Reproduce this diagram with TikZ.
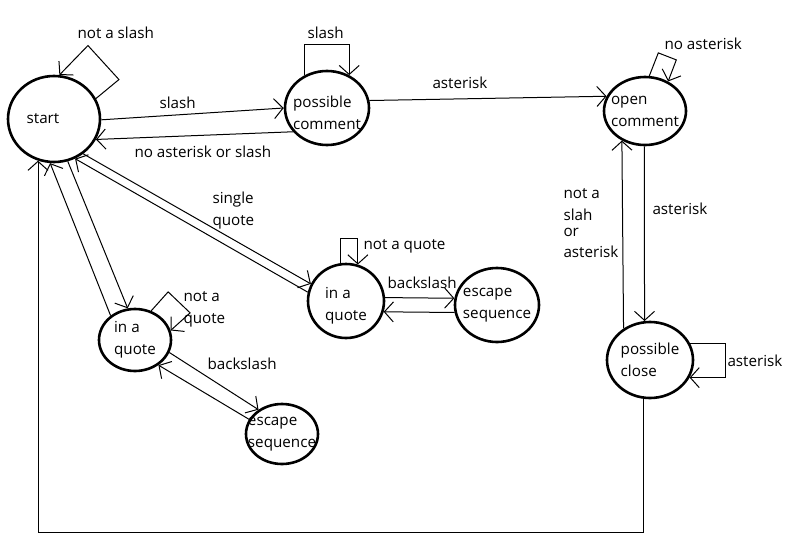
\documentclass[tikz,border=0pt]{standalone}
\usepackage{fontspec}
\setmainfont{Open Sans}
\usetikzlibrary{shapes.geometric,arrows.meta}

\begin{document}
\begin{tikzpicture}[x=1pt,y=-1pt,line width=1pt,
  state/.style={draw,ellipse,line width=2.6pt,inner ysep=0pt,inner xsep=-12pt,align=left,
    font=\fontsize{15.2}{22}\selectfont},
  lbl/.style={anchor=base west,inner sep=0pt,align=left,
    font=\fontsize{15.2}{22}\selectfont},
  >={Straight Barb[length=9pt,width=20pt]}]
  \useasboundingbox (0,0) rectangle (787,541);

  % states
  \node[state,minimum width=92pt,minimum height=86pt] (start) at (54,119) {start\hspace*{22pt}};
  \node[state,minimum width=84pt,minimum height=74pt] (pc) at (327,108) {\rule{0pt}{21pt}possible\\comment};
  \node[state,minimum width=82pt,minimum height=68pt] (oc) at (645,111) {open\\comment};
  \node[state,minimum width=86pt,minimum height=76pt] (pclose) at (650,360) {possible\\close};
  \node[state,minimum width=76pt,minimum height=74pt] (rq) at (346,301) {\rule{0pt}{20pt}in a\\quote};
  \node[state,minimum width=84pt,minimum height=74pt] (re) at (497,305) {escape\\sequence};
  \node[state,minimum width=72pt,minimum height=62pt] (lq) at (135,340) {in a\\quote};
  \node[state,minimum width=72pt,minimum height=60pt] (le) at (282,434) {escape\\sequence};

  % transitions
  \draw[->] (start.26) -- ++(23,-19) -- ++(-31,-34) -- (start.83);
  \draw[->] (start.-1) -- (pc.180);
  \draw[->] (pc.215) -- (start.-26);
  \draw[->] (pc.124) -- ++(0,-31) -| (pc.56);
  \draw[->] (pc.10) -- (oc.159);
  \draw[->] (oc.83) -- ++(9,-23) -- ++(18,7) -- (oc.52);
  \draw[->] (oc.-91) -- (pclose.98);
  \draw[->] (pclose.130) -- (oc.232);
  \draw[->] (pclose.22) -- ++(35,0) |- (pclose.-24);
  \draw[->] (pclose.-99) -- ++(0,134) -| (start.249);
  \draw[->] (start.-72) -- (lq.103);
  \draw[->] (lq.135) -- (start.265);
  \draw[->] (start.-50) -- (rq.154);
  \draw[->] (rq.167) -- (start.-62);
  \draw[->] (rq.99) -- ++(0,-25) -| (rq.72);
  \draw[->] (rq.5) -- (re.171);
  \draw[->] (re.190) -- (rq.-16);
  \draw[->] (lq.-20) -- (le.134);
  \draw[->] (le.156) -- (lq.-47);
  \draw[->] (lq.61) -- ++(17,-19) -- ++(22,21) -- (lq.15);

  % labels
  \node[lbl] (l1) at (77,38) {not a slash};
  \node[lbl] (l2) at (307,38) {slash};
  \node[lbl] (l3) at (159,108) {slash};
  \node[lbl] (l4) at (134,157) {no asterisk or slash};
  \node[lbl] (l5) at (212,225) {single\\quote};
  \node[lbl] (l6) at (432,88) {asterisk};
  \node[lbl] (l7) at (664,49) {no asterisk};
  \node[lbl] (l8) at (563,198) {not a};
  \node[lbl] (l9) at (563,220) {slah};
  \node[lbl] (l10) at (563,236) {or};
  \node[lbl] (l11) at (563,257) {asterisk};
  \node[lbl] (l12) at (652,214) {asterisk};
  \node[lbl] (l13) at (363,249) {not a quote};
  \node[lbl] (l14) at (387,288) {backslash};
  \node[lbl] (l15) at (727,366) {asterisk};
  \node[lbl] (l16) at (183,323) {not a\\quote};
  \node[lbl] (l17) at (207,369) {backslash};
\end{tikzpicture}
\end{document}
